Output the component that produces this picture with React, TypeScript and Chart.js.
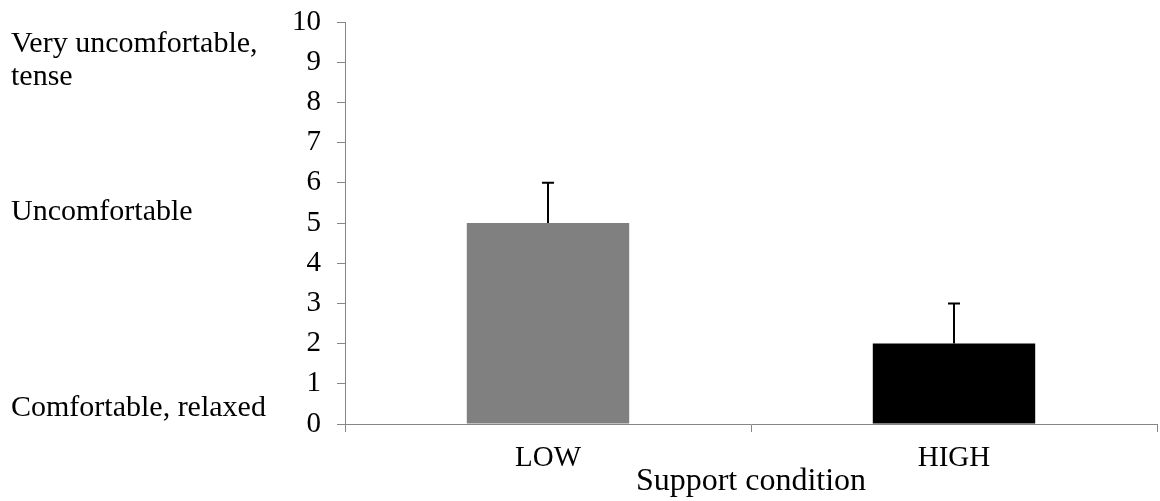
import React, { useEffect, useRef } from "react";
import { Chart, registerables } from "chart.js";

Chart.register(...registerables);

const categories = ["LOW", "HIGH"];
const meanValues = [5, 2];
const errorValues = [1, 1];
const barColors = ["#808080", "#000000"];
const yTicks = [0, 1, 2, 3, 4, 5, 6, 7, 8, 9, 10];
const xTitle = "Support condition";
const sideLabels = [
  { text: "Very uncomfortable,", y: 52 },
  { text: "tense", y: 85 },
  { text: "Uncomfortable", y: 220 },
  { text: "Comfortable, relaxed", y: 416 },
];

const FONT = '"Liberation Serif", "Times New Roman", serif';
const AXIS_COLOR = "#868686";

const errorBarPlugin = {
  id: "errorBars",
  afterDatasetsDraw(chart: any) {
    const ctx = chart.ctx;
    const meta = chart.getDatasetMeta(0);
    const yScale = chart.scales.y;
    ctx.save();
    ctx.strokeStyle = "#000";
    ctx.lineWidth = 2;
    meta.data.forEach((el: any, i: number) => {
      const top = yScale.getPixelForValue(meanValues[i] + errorValues[i]);
      const x = Math.round(el.x);
      ctx.beginPath();
      ctx.moveTo(x, el.y);
      ctx.lineTo(x, top);
      ctx.moveTo(x - 6, top);
      ctx.lineTo(x + 6, top);
      ctx.stroke();
    });
    ctx.restore();
  },
};

const sideLabelPlugin = {
  id: "sideLabels",
  afterDraw(chart: any) {
    const ctx = chart.ctx;
    ctx.save();
    ctx.fillStyle = "#000";
    ctx.font = `30px ${FONT}`;
    ctx.textAlign = "left";
    ctx.textBaseline = "alphabetic";
    sideLabels.forEach((l) => ctx.fillText(l.text, 11, l.y));
    ctx.restore();
  },
};

export default function App() {
  const ref = useRef<HTMLCanvasElement>(null);
  useEffect(() => {
    if (!ref.current) return;
    const chart = new Chart(ref.current, {
      type: "bar",
      data: {
        labels: categories,
        datasets: [
          {
            data: meanValues,
            backgroundColor: barColors,
            borderWidth: 0,
            barPercentage: 0.4,
            categoryPercentage: 1,
          },
        ],
      },
      options: {
        responsive: false,
        animation: false,
        layout: { padding: { left: 0, right: 3, top: 22, bottom: 0 } },
        plugins: {
          legend: { display: false },
          tooltip: { enabled: false },
        },
        scales: {
          x: {
            offset: true,
            grid: {
              offset: true,
              drawOnChartArea: false,
              drawTicks: true,
              tickLength: 8,
              color: AXIS_COLOR,
            },
            border: { color: AXIS_COLOR, width: 1 },
            ticks: {
              color: "#000",
              font: { family: FONT, size: 29 },
              padding: 9,
            },
            title: {
              display: true,
              text: xTitle,
              color: "#000",
              font: { family: FONT, size: 32 },
              padding: { top: 0, bottom: 0 },
            },
            afterFit(scale: any) {
              scale.height = 77;
              scale.paddingLeft = 0;
              scale.paddingRight = 0;
            },
          },
          y: {
            min: 0,
            max: 10,
            grid: {
              drawOnChartArea: false,
              drawTicks: true,
              tickLength: 8,
              color: AXIS_COLOR,
            },
            border: { color: AXIS_COLOR, width: 1 },
            afterBuildTicks(scale: any) {
              scale.ticks = yTicks.map((v) => ({ value: v }));
            },
            ticks: {
              color: "#000",
              font: { family: FONT, size: 29 },
              padding: 16,
            },
            afterFit(scale: any) {
              scale.width = 345;
              scale.paddingTop = 0;
              scale.paddingBottom = 0;
            },
          },
        },
      },
      plugins: [errorBarPlugin, sideLabelPlugin],
    });
    return () => chart.destroy();
  }, []);
  return (
    <div style={{ position: "absolute", left: 0, top: 0, width: 1160, height: 501, background: "#fff" }}>
      <canvas ref={ref} width={1160} height={501} />
    </div>
  );
}
